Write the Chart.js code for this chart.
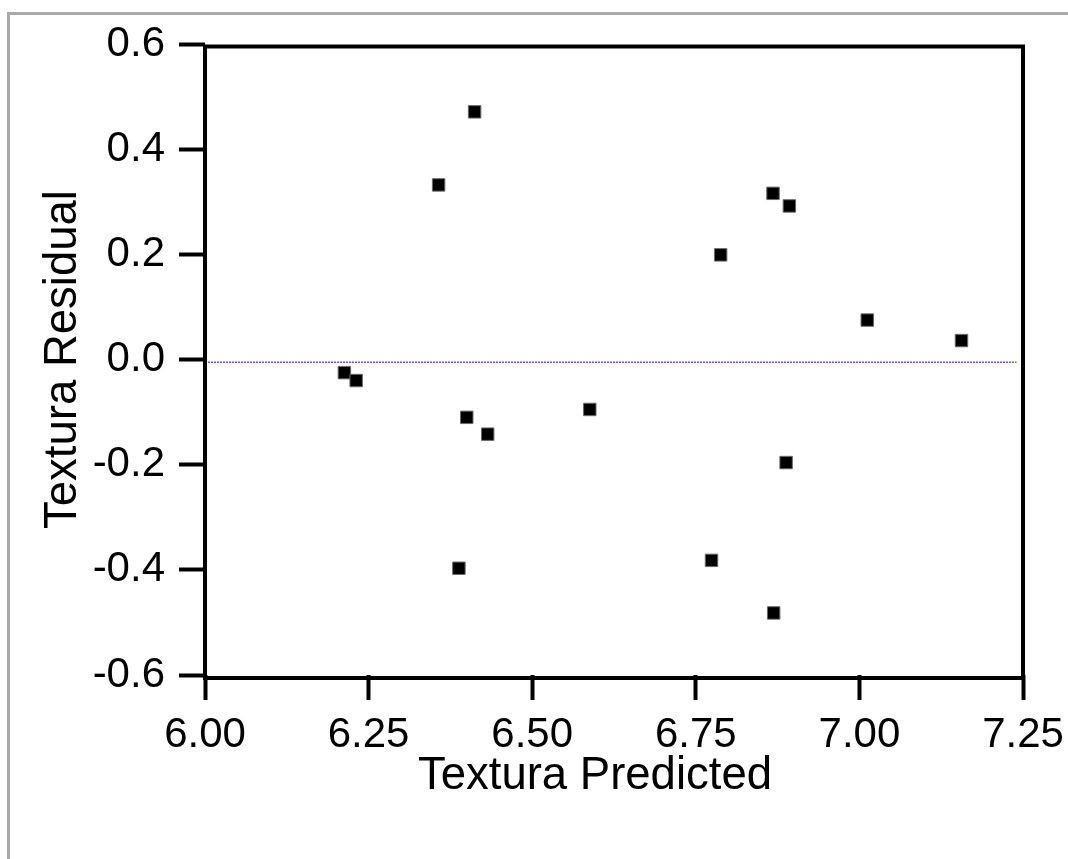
<!DOCTYPE html>
<html>
<head>
<meta charset="utf-8">
<title>Textura Residual vs Predicted</title>
<script src="https://cdn.jsdelivr.net/npm/chart.js@4/dist/chart.umd.min.js"></script>
<style>
  html, body { margin: 0; padding: 0; background: #fff; }
  #wrap { position: relative; width: 1068px; height: 859px; overflow: hidden; }
  #frame { position: absolute; left: 7px; top: 12px; right: -10px; bottom: -10px;
           border-top: 3px solid #a9a9a9; border-left: 3px solid #a9a9a9; }
  #chart { position: absolute; left: 0; top: 0; }
</style>
</head>
<body>
<div id="wrap">
  <div id="frame"></div>
  <canvas id="chart" width="1068" height="859"></canvas>
</div>
<script>
// Predicted values and residuals for Textura
const predicted = [6.412, 6.357, 6.868, 6.893, 6.788, 7.012, 7.156, 6.213,
                   6.231, 6.400, 6.432, 6.588, 6.888, 6.388, 6.774, 6.869];
const residual  = [0.471, 0.332, 0.316, 0.292, 0.199, 0.075, 0.036, -0.025,
                   -0.040, -0.110, -0.142, -0.095, -0.196, -0.397, -0.382, -0.482];

// Reference line for the residuals (spans the predicted range)
const refLineX = [6.0, 7.24];
const refLineY = [-0.005, -0.005];

// Axis tick values
const xTickValues = [6.00, 6.25, 6.50, 6.75, 7.00, 7.25];
const yTickValues = [-0.6, -0.4, -0.2, 0.0, 0.2, 0.4, 0.6];

const xTitle = 'Textura Predicted';
const yTitle = 'Textura Residual';

const FONT = "'Liberation Sans', Arial, sans-serif";

// Heavy black frame around the plotting region, plus the x axis caption
const framePlugin = {
  id: 'plotFrame',
  afterDatasetsDraw(chart) {
    const ctx = chart.ctx;
    const a = chart.chartArea;
    ctx.save();
    ctx.strokeStyle = '#000';
    ctx.lineWidth = 4;
    ctx.strokeRect(a.left, a.top + 2.5, a.right - a.left, a.bottom - a.top + 0.5);
    ctx.restore();
  },
  afterDraw(chart) {
    const ctx = chart.ctx;
    const a = chart.chartArea;
    ctx.save();
    ctx.fillStyle = '#000';
    ctx.font = '45.5px ' + FONT;
    ctx.textAlign = 'center';
    ctx.textBaseline = 'middle';
    ctx.fillText(xTitle, (a.left + a.right) / 2 - 19, 776);
    ctx.restore();
  }
};

new Chart(document.getElementById('chart'), {
  type: 'scatter',
  data: {
    datasets: [
      {
        type: 'line',
        data: refLineX.map((x, i) => ({ x: x, y: refLineY[i] })),
        borderColor: 'rgba(70, 60, 235, 0.85)',
        borderWidth: 1.5,
        borderDash: [2, 1],
        pointRadius: 0,
        fill: false,
        order: 2
      },
      {
        data: predicted.map((x, i) => ({ x: x, y: residual[i] })),
        pointStyle: 'rect',
        pointRadius: 8.8,
        pointHoverRadius: 8.8,
        backgroundColor: '#000',
        borderColor: '#6a6a6a',
        borderWidth: 1,
        order: 1
      }
    ]
  },
  options: {
    responsive: false,
    animation: false,
    events: [],
    layout: { padding: { left: 0, top: 44, right: 45, bottom: 0 } },
    plugins: { legend: { display: false }, tooltip: { enabled: false } },
    scales: {
      x: {
        type: 'linear',
        min: 6.0,
        max: 7.25,
        afterBuildTicks(scale) { scale.ticks = xTickValues.map(v => ({ value: v })); },
        afterFit(scale) { scale.height = 184; scale.paddingLeft = 0; scale.paddingRight = 0; },
        border: { display: false },
        grid: { drawOnChartArea: false, drawTicks: true, tickLength: 25, tickWidth: 4, tickColor: '#000' },
        ticks: {
          color: '#000',
          padding: 10,
          maxRotation: 0,
          autoSkip: false,
          font: { family: FONT, size: 42 },
          callback: v => Number(v).toFixed(2)
        },
        title: { display: false }
      },
      y: {
        type: 'linear',
        min: -0.6,
        max: 0.6,
        afterBuildTicks(scale) { scale.ticks = yTickValues.map(v => ({ value: v })); },
        afterFit(scale) { scale.width = 205; scale.paddingTop = 0; scale.paddingBottom = 0; },
        border: { display: false },
        grid: { drawOnChartArea: false, drawTicks: true, tickLength: 26, tickWidth: 4, tickColor: '#000' },
        ticks: {
          color: '#000',
          padding: 14,
          autoSkip: false,
          font: { family: FONT, size: 42 },
          callback: v => Number(v).toFixed(1)
        },
        title: {
          display: true,
          text: yTitle,
          color: '#000',
          font: { family: FONT, size: 45.5 },
          padding: { top: 36, bottom: 0 }
        }
      }
    }
  },
  plugins: [framePlugin]
});
</script>
</body>
</html>
